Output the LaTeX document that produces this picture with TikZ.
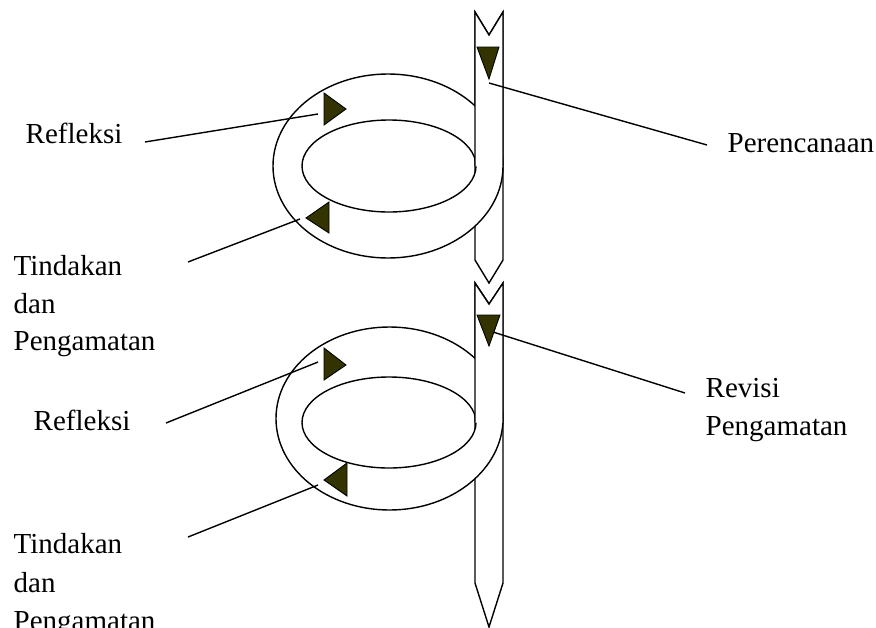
\documentclass[tikz,border=0pt]{standalone}
\usepackage{fontspec}
\setmainfont{Liberation Serif}
\definecolor{tricol}{RGB}{51,51,0}
\begin{document}
\begin{tikzpicture}[x=1pt,y=-1pt,line width=1.4pt,
  lbl/.style={inner sep=0pt,anchor=base west,font=\fontsize{29}{35}\selectfont},
  tri/.style={fill=tricol,draw=black,line width=0.9pt,line join=miter},
  leader/.style={line width=1.4pt},
  stembox/.style={fill=white,draw=black,line width=1.4pt}]
\useasboundingbox (0,0) rectangle (876,627);
% ---------- unit 1 ----------
\filldraw[stembox] (475,12) -- (475,260) -- (489,283) -- (503,260) -- (503,12) -- (489,35) -- cycle;
\fill[white,even odd rule] (388,166) ellipse [x radius=115,y radius=92] (389,166) ellipse [x radius=87,y radius=46];
\draw (388,166) ellipse [x radius=115,y radius=92];
\draw (389,166) ellipse [x radius=87,y radius=46];
\filldraw[stembox] (475,166) -- (475,12) -- (489,35) -- (503,12) -- (503,166);
% ---------- unit 2 ----------
\filldraw[stembox] (475,283) -- (475,583) -- (489,627) -- (503,583) -- (503,283) -- (489,304) -- cycle;
\fill[white,even odd rule] (389.5,418.5) ellipse [x radius=113.5,y radius=91.5] (389,422.5) ellipse [x radius=87,y radius=45.5];
\draw (389.5,418.5) ellipse [x radius=113.5,y radius=91.5];
\draw (389,422.5) ellipse [x radius=87,y radius=45.5];
\filldraw[stembox] (475,422.5) -- (475,283) -- (489,304) -- (503,283) -- (503,422.5);
% ---------- labels ----------
\node[lbl] (ref1) at (25,143) {Refleksi};
\node[lbl] (tin1a) at (13,275) {Tindakan};
\node[lbl] (tin1b) at (13,313) {dan};
\node[lbl] (tin1c) at (13,350) {Pengamatan};
\node[lbl] (per) at (727,152) {Perencanaan};
\node[lbl] (ref2) at (33,430) {Refleksi};
\node[lbl] (tin2a) at (13,553) {Tindakan};
\node[lbl] (tin2b) at (13,592) {dan};
\node[lbl] (tin2c) at (13,630) {Pengamatan};
\node[lbl] (rev1) at (705,397) {Revisi};
\node[lbl] (rev2) at (705,435) {Pengamatan};
% ---------- leader end points ----------
\coordinate (l1a) at (145,142); \coordinate (l1b) at (318,114);
\coordinate (l2a) at (188,262); \coordinate (l2b) at (300,219);
\coordinate (l3a) at (489,83);  \coordinate (l3b) at (707,145);
\coordinate (l4a) at (166,423); \coordinate (l4b) at (318,362);
\coordinate (l5a) at (188,537); \coordinate (l5b) at (318,485);
\coordinate (l6a) at (493,332); \coordinate (l6b) at (685,393);
\draw[leader] (l1a) -- (l1b);
\draw[leader] (l2a) -- (l2b);
\draw[leader] (l3a) -- (l3b);
\draw[leader] (l4a) -- (l4b);
\draw[leader] (l5a) -- (l5b);
\draw[leader] (l6a) -- (l6b);
% ---------- direction triangles ----------
\filldraw[tri] (477,47) -- (499,47) -- (489,79) -- cycle;
\filldraw[tri] (324,93) -- (324,125) -- (346,109) -- cycle;
\filldraw[tri] (329,202) -- (329,233) -- (306,218) -- cycle;
\filldraw[tri] (477,315) -- (500,315) -- (489,346) -- cycle;
\filldraw[tri] (324,348) -- (324,380) -- (346,365) -- cycle;
\filldraw[tri] (347,463) -- (347,496) -- (324,480) -- cycle;
\end{tikzpicture}
\end{document}
